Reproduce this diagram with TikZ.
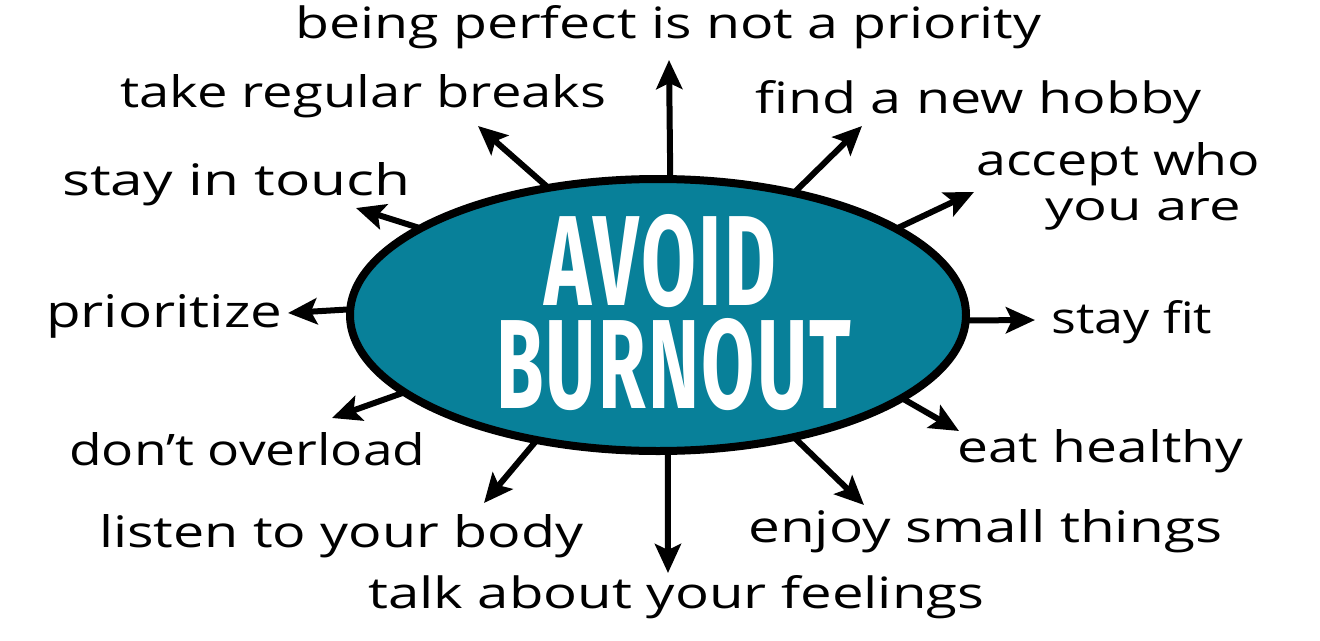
\documentclass[tikz,border=0pt]{standalone}
\usepackage{fontspec}
\usepackage{graphicx}
\usetikzlibrary{arrows.meta,shapes.geometric}
\newfontfamily\labfont{Open Sans}
\newfontfamily\titlefont{Fira Sans}
\definecolor{burnteal}{RGB}{8,128,153}
\newcommand\fitw[2]{\resizebox{#1}{33pt}{#2}}
\begin{document}
\begin{tikzpicture}[x=1pt,y=-1pt,
  arr/.style={line width=6pt,shorten <=-3pt,-{Stealth[length=29pt,width=26pt,inset=6pt]}},
  lab/.style={anchor=base west,inner sep=0pt,font=\labfont},
  ttl/.style={anchor=base west,inner sep=0pt,text=white}]
\useasboundingbox[fill=white] (0,0) rectangle (1320,640);
\node[ellipse,draw,line width=8pt,fill=burnteal,minimum width=616pt,minimum height=272pt,inner sep=0pt] (c) at (658,315) {};
\node[ttl] (t1) at (544,305) {\resizebox{232pt}{91pt}{\titlefont\bfseries A\kern0.03em V\kern0.03em O\kern0.03em I\kern0.03em D}};
\node[ttl] (t2) at (496,408) {\resizebox{355pt}{90pt}{\titlefont\bfseries B\kern0.03em U\kern0.03em R\kern0.03em N\kern0.03em O\kern0.03em U\kern0.03em T}};
% tips
\coordinate (tUp) at (669,60);
\coordinate (tBreaks) at (478,126);
\coordinate (tTouch) at (356,208);
\coordinate (tPrio) at (288,313);
\coordinate (tOver) at (332,418);
\coordinate (tListen) at (484,503);
\coordinate (tDown) at (668,573);
\coordinate (tEnjoy) at (864,505);
\coordinate (tEat) at (959,431);
\coordinate (tFit) at (1035,320);
\coordinate (tAccept) at (974,192);
\coordinate (tHobby) at (862,126);
\draw[arr] (c.85.5) -- (tUp);
\draw[arr] (c.131.5) -- (tBreaks);
\draw[arr] (c.160) -- (tTouch);
\draw[arr] (c.179.6) -- (tPrio);
\draw[arr] (c.197.4) -- (tOver);
\draw[arr] (c.226.6) -- (tListen);
\draw[arr] (c.274.1) -- (tDown);
\draw[arr] (c.318.4) -- (tEnjoy);
\draw[arr] (c.341.1) -- (tEat);
\draw[arr] (c.359.1) -- (tFit);
\draw[arr] (c.20.8) -- (tAccept);
\draw[arr] (c.42.4) -- (tHobby);
% labels
\node[lab] (lPerfect) at (295,38) {\fitw{746pt}{being perfect is not a priority}};
\node[lab] (lBreaks) at (120,107) {\fitw{486pt}{take regular breaks}};
\node[lab] (lTouch) at (62,195) {\fitw{348pt}{stay in touch}};
\node[lab] (lPrio) at (46,327) {\fitw{236pt}{prioritize}};
\node[lab] (lOver) at (69,465) {\fitw{356pt}{don’t overload}};
\node[lab] (lListen) at (99,547) {\fitw{484pt}{listen to your body}};
\node[lab] (lTalk) at (368,608) {\fitw{616pt}{talk about your feelings}};
\node[lab] (lEnjoy) at (748,542) {\fitw{474pt}{enjoy small things}};
\node[lab] (lEat) at (957,462) {\fitw{286pt}{eat healthy}};
\node[lab] (lFit) at (1051,333) {\fitw{161pt}{stay fit}};
\node[lab] (lHobby) at (755,113) {\fitw{446pt}{find a new hobby}};
\node[lab] (lAccept) at (976,175) {\vtop{\baselineskip=45pt\lineskiplimit=-100pt
  \hbox{\fitw{284pt}{accept who}}\hbox{\hspace*{69pt}\resizebox{196pt}{22pt}{you are}}}};
\end{tikzpicture}
\end{document}
